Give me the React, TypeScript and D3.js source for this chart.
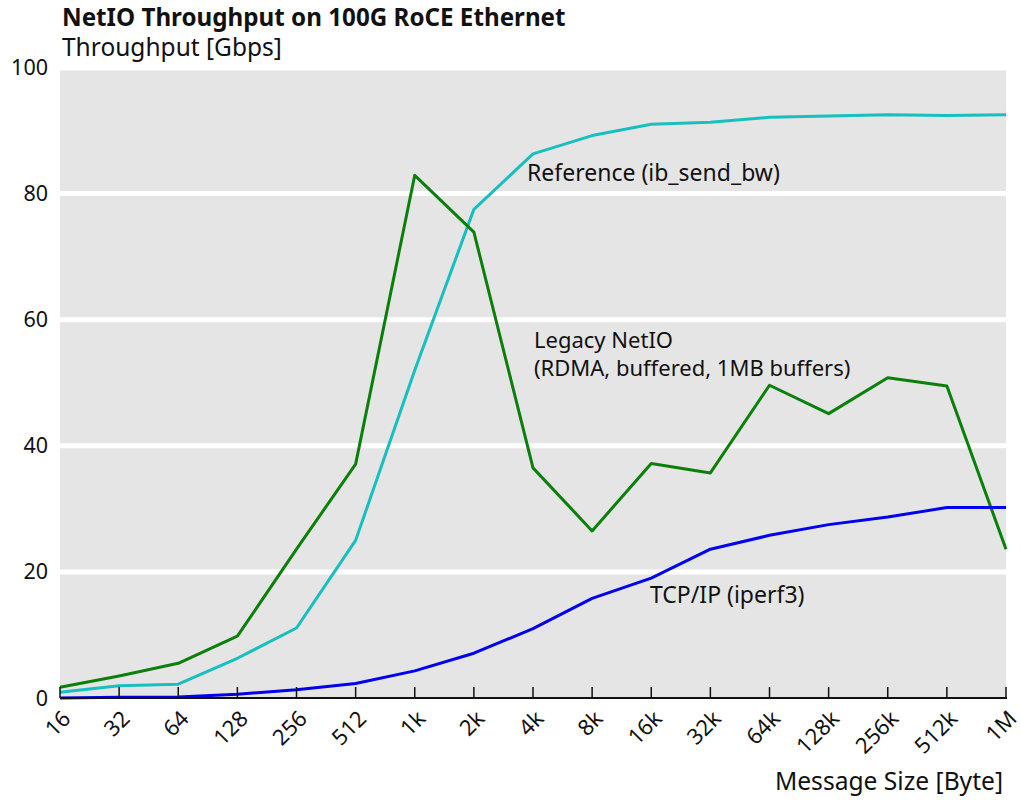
import React from "react";
import * as d3 from "d3";

// Message sizes in bytes and their axis labels
const sizes = [16, 32, 64, 128, 256, 512, 1024, 2048, 4096, 8192, 16384, 32768, 65536, 131072, 262144, 524288, 1048576];
const sizeLabels = ["16", "32", "64", "128", "256", "512", "1k", "2k", "4k", "8k", "16k", "32k", "64k", "128k", "256k", "512k", "1M"];

// Throughput in Gbps per message size
const legacyNetIO = [1.7, 3.5, 5.5, 9.8, 23.6, 37.1, 82.9, 73.9, 36.5, 26.5, 37.2, 35.7, 49.6, 45.1, 50.8, 49.5, 23.6];
const referenceIb = [0.9, 1.95, 2.2, 6.3, 11.1, 25.0, 52.0, 77.5, 86.3, 89.2, 91.0, 91.3, 92.1, 92.3, 92.5, 92.4, 92.5];
const tcpIperf = [0.0, 0.1, 0.15, 0.6, 1.3, 2.3, 4.3, 7.1, 11.0, 15.8, 19.0, 23.6, 25.8, 27.5, 28.7, 30.2, 30.2];

const yTicks = [0, 20, 40, 60, 80, 100];
const gridValues = [20, 40, 60, 80];

const W = 1021;
const H = 801;
const left = 60;
const right = 1006;
const top = 70.5;
const bottom = 698;
const FONT = "'Noto Sans', sans-serif";

export default function App() {
  const x = d3.scaleLog().base(2).domain([16, 1048576]).range([left, right]);
  const y = d3.scaleLinear().domain([0, 100]).range([bottom, 67.5]);

  const line = (vals: number[]) =>
    d3
      .line<number>()
      .x((_, i) => x(sizes[i]))
      .y((v) => y(v))(vals) as string;

  const series = [
    { vals: referenceIb, color: "#17bfbf" },
    { vals: legacyNetIO, color: "#0a800a" },
    { vals: tcpIperf, color: "#0000ee" },
  ];

  return (
    <svg width={W} height={H} style={{ position: "absolute", left: 0, top: 0, background: "#fff" }} fontFamily={FONT}>
      <text x={62} y={26} fontSize={24.2} fontWeight="bold" fill="#111">
        NetIO Throughput on 100G RoCE Ethernet
      </text>
      <text x={62} y={56} fontSize={24.5} fill="#111">
        Throughput [Gbps]
      </text>

      <rect x={left} y={top} width={right - left} height={bottom - top} fill="#e5e5e5" />
      {gridValues.map((g) => (
        <line key={g} x1={left} x2={right} y1={y(g)} y2={y(g)} stroke="#fff" strokeWidth={5} />
      ))}

      {yTicks.map((t) => (
        <text key={t} x={48} y={y(t)} dy="0.35em" textAnchor="end" fontSize={21.5} fill="#111">
          {t}
        </text>
      ))}

      {series.map((s, i) => (
        <path key={i} d={line(s.vals)} fill="none" stroke={s.color} strokeWidth={3} strokeLinejoin="round" />
      ))}

      <line x1={left} x2={right + 1} y1={bottom} y2={bottom} stroke="#111" strokeWidth={2} />
      {sizes.map((s, i) => (
        <g key={s}>
          <line x1={x(s)} x2={x(s)} y1={bottom - 11} y2={bottom} stroke="#111" strokeWidth={1.5} />
          <text
            transform={`translate(${x(s) + 12},${bottom + 22}) rotate(-45)`}
            textAnchor="end"
            fontSize={22}
            fill="#111"
          >
            {sizeLabels[i]}
          </text>
        </g>
      ))}

      <text x={1003} y={790} textAnchor="end" fontSize={24.6} fill="#111">
        Message Size [Byte]
      </text>

      <text x={527} y={181} fontSize={23} fill="#111">
        Reference (ib_send_bw)
      </text>
      <text x={534} y={348} fontSize={22} fill="#111">
        Legacy NetIO
      </text>
      <text x={534} y={376} fontSize={22} fill="#111">
        (RDMA, buffered, 1MB buffers)
      </text>
      <text x={650} y={603} fontSize={23} fill="#111">
        TCP/IP (iperf3)
      </text>
    </svg>
  );
}
